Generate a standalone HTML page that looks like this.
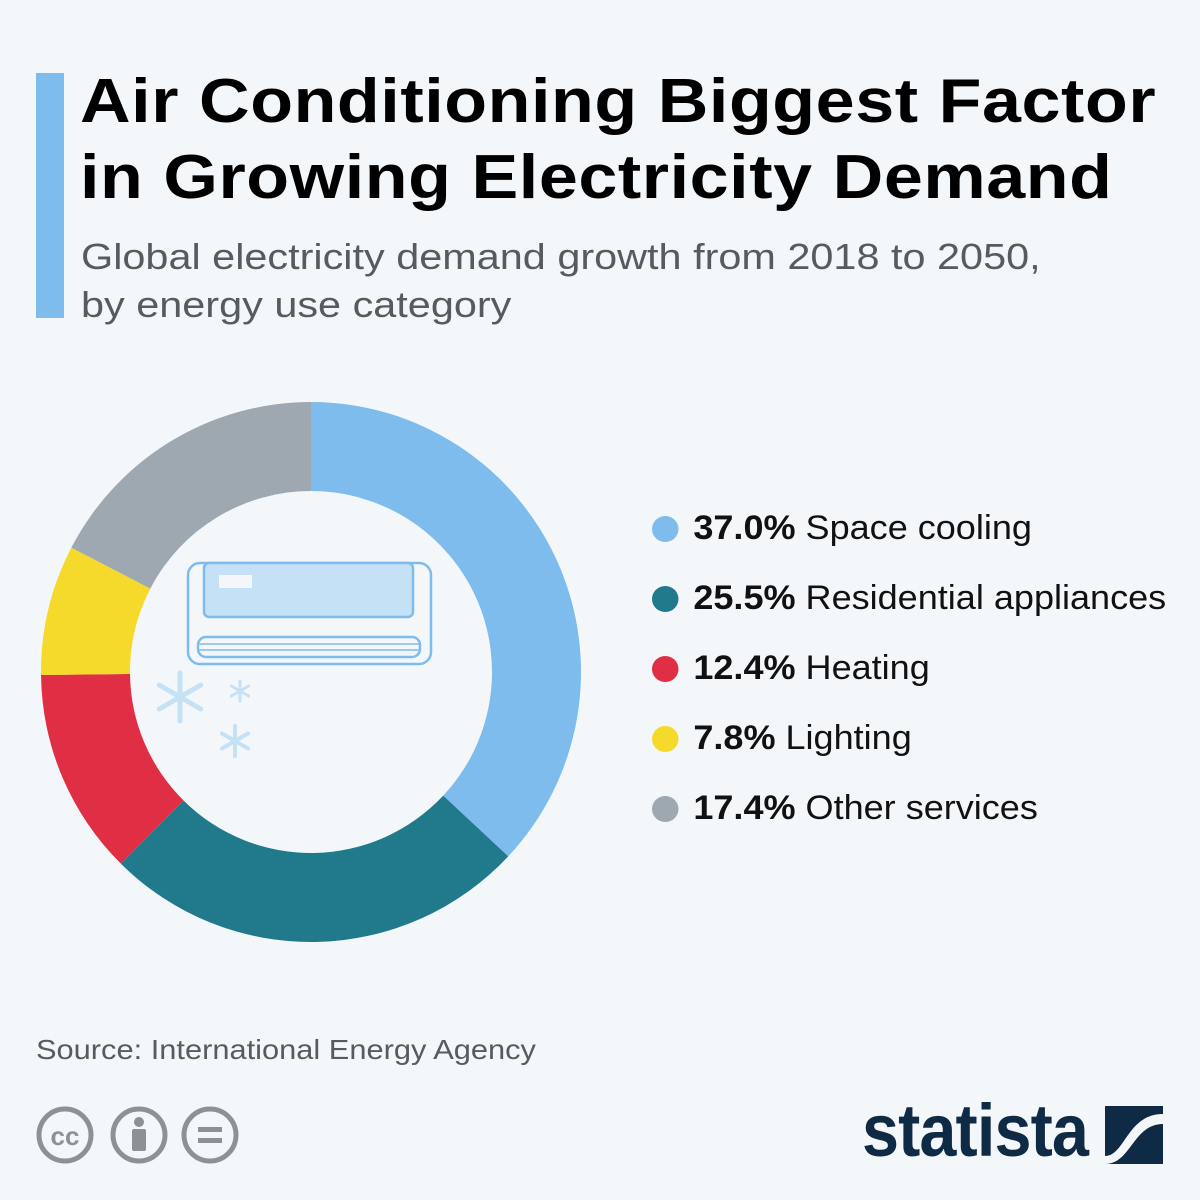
<!DOCTYPE html>
<html><head><meta charset="utf-8"><style>
body{margin:0;width:1200px;height:1200px;background:#f4f7fa;font-family:"Liberation Sans",sans-serif;position:relative;overflow:hidden}
.t{position:absolute}
</style></head><body>
<div class="t" style="left:36px;top:73px;width:28px;height:245px;background:#7fbcee"></div>
<div class="t" style="left:80px;top:64px;font-size:62px;font-weight:bold;line-height:76px;color:#000;letter-spacing:0.5px;white-space:nowrap;transform:scaleX(1.13);transform-origin:left">Air Conditioning Biggest Factor<br>in Growing Electricity Demand</div>
<div class="t" style="left:81px;top:233px;font-size:36px;line-height:48px;color:#555b61;white-space:nowrap;transform:scaleX(1.15);transform-origin:left">Global electricity demand growth from 2018 to 2050,<br>by energy use category</div>

<svg class="t" style="left:0;top:0" width="1200" height="1200">
<g id="donut"></g>
<g fill="none" stroke="#7fbcee" stroke-width="2.5">
<rect x="188" y="563" width="243" height="101" rx="12"/>
<rect x="204" y="563" width="209" height="54" rx="5" fill="#c5e1f6"/>
<rect x="219" y="575" width="33" height="13" fill="#f4f7fa" stroke="none"/>
<rect x="198" y="637" width="222" height="20" rx="8"/>
<line x1="199" y1="644" x2="419" y2="644" stroke-width="1.5"/>
<line x1="199" y1="650" x2="419" y2="650" stroke-width="1.5"/>
</g>
<g stroke="#c5e1f6" stroke-linecap="round" id="flakes"></g>
</svg>

<div id="legend"></div>

<div class="t" style="left:36px;top:1034px;font-size:28px;color:#555b61;white-space:nowrap;transform:scaleX(1.1);transform-origin:left">Source: International Energy Agency</div>
<svg class="t" style="left:30px;top:1100px" width="220" height="70">
<g fill="none" stroke="#8c9196" stroke-width="5">
<circle cx="35" cy="35" r="26"/><circle cx="109" cy="35" r="26"/><circle cx="180" cy="35" r="26"/></g>
<text x="35" y="45" text-anchor="middle" font-size="26" font-weight="bold" fill="#8c9196" font-family="Liberation Sans">cc</text>
<circle cx="109" cy="22" r="5" fill="#8c9196"/><rect x="102" y="29" width="14" height="22" rx="2" fill="#8c9196"/>
<rect x="168" y="27" width="24" height="5" fill="#8c9196"/><rect x="168" y="38" width="24" height="5" fill="#8c9196"/>
</svg>
<div class="t" style="left:862px;top:1088px;font-size:74px;font-weight:bold;color:#0f2a44;letter-spacing:-1px;transform:scaleX(0.9);transform-origin:left">statista</div>
<svg class="t" style="left:1105px;top:1106px" width="58" height="58">
<rect width="58" height="58" fill="#0f2a44"/>
<path d="M0 50 C20 50 22 8 58 8 L58 18 C28 18 26 58 0 58Z" fill="#f4f7fa"/>
</svg>

<script>
const categories=["Space cooling","Residential appliances","Heating","Lighting","Other services"];
const values=[37.0,25.5,12.4,7.8,17.4];
const colors=["#7fbcee","#217a8c","#e02f45","#f5d92b","#9ea8b1"];
const NS="http://www.w3.org/2000/svg";
const cx=311,cy=672,R=270,r=181;
const total=values.reduce((a,b)=>a+b,0);
function pt(a,rad){return [cx+rad*Math.sin(a),cy-rad*Math.cos(a)];}
let a0=0;const g=document.getElementById('donut');
values.forEach((v,i)=>{
 const a1=a0+v/total*2*Math.PI;const large=(a1-a0)>Math.PI?1:0;
 const p1=pt(a0,R),p2=pt(a1,R),p3=pt(a1,r),p4=pt(a0,r);
 const p=document.createElementNS(NS,'path');
 p.setAttribute('d',`M${p1}L${p1}A${R},${R} 0 ${large} 1 ${p2}L${p3}A${r},${r} 0 ${large} 0 ${p4}Z`);
 p.setAttribute('fill',colors[i]);
 
 
 g.appendChild(p);a0=a1;
});
const lg=document.getElementById('legend');
values.forEach((v,i)=>{
 const d=document.createElement('div');d.className='t';
 d.style.cssText=`left:652px;top:${506+i*70}px;font-size:34px;color:#111;white-space:nowrap;line-height:44px;transform:scaleX(1.06);transform-origin:left`;
 d.innerHTML=`<span style="display:inline-block;width:25px;height:26px;border-radius:50%;background:${colors[i]};vertical-align:-3px;margin-right:14px"></span><b>${v.toFixed(1)}%</b> ${categories[i]}`;
 
 
 lg.appendChild(d);
});
const fl=document.getElementById('flakes');
[[180,697,24,5],[240,691,10,3],[235,741,15,4]].forEach(([x,y,s,w])=>{
 for(let k=0;k<3;k++){const an=k*Math.PI/3;const dx=s*Math.sin(an),dy=s*Math.cos(an);
  const l=document.createElementNS(NS,'line');
  l.setAttribute('x1',x-dx);l.setAttribute('y1',y-dy);l.setAttribute('x2',x+dx);l.setAttribute('y2',y+dy);
  l.setAttribute('stroke-width',w);fl.appendChild(l);}
});
</script>
</body></html>
